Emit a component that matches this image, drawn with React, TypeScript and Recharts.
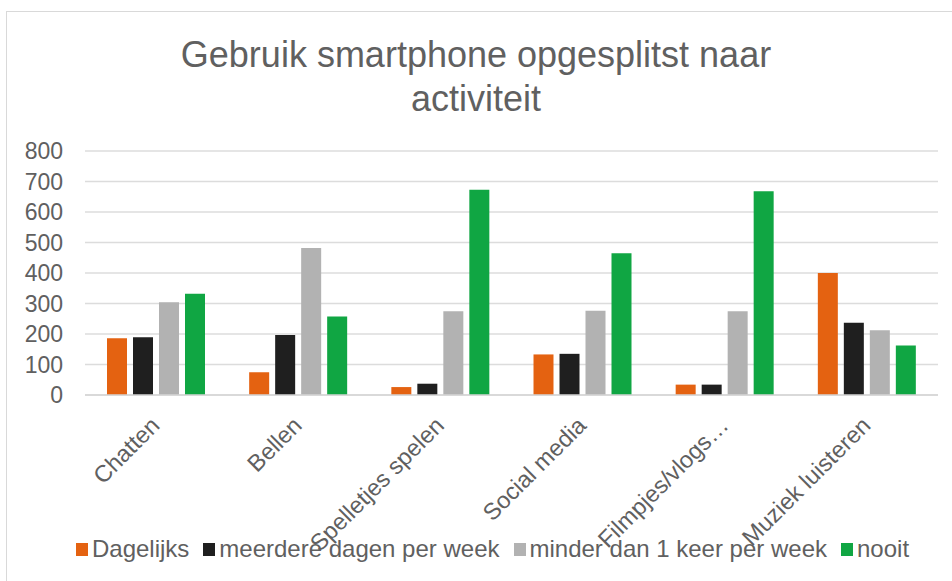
import React from "react";
import { BarChart, Bar, XAxis, YAxis, CartesianGrid } from "recharts";

const categories = [
  "Chatten",
  "Bellen",
  "Spelletjes spelen",
  "Social media",
  "Filmpjes/vlogs…",
  "Muziek luisteren",
];

const dagelijks = [186, 75, 26, 133, 34, 400];
const meerdereDagen = [189, 197, 37, 135, 34, 237];
const minderDan1 = [304, 482, 275, 276, 275, 212];
const nooit = [332, 257, 673, 465, 668, 162];

const yTicks = [0, 100, 200, 300, 400, 500, 600, 700, 800];

const series = [
  { key: "dagelijks", name: "Dagelijks", color: "#E46211", values: dagelijks },
  { key: "meerdere", name: "meerdere dagen per week", color: "#1F1F1F", values: meerdereDagen },
  { key: "minder", name: "minder dan 1 keer per week", color: "#B2B2B2", values: minderDan1 },
  { key: "nooit", name: "nooit", color: "#10A643", values: nooit },
];

const data = categories.map((name, i) => {
  const row: Record<string, string | number> = { name };
  series.forEach((s) => (row[s.key] = s.values[i]));
  return row;
});

const FONT = "'Liberation Sans', Arial, sans-serif";
const TEXT = "#606060";

// rotated category labels, end of text sits just right of the tick
function CategoryTick(props: any) {
  const { x, y, payload } = props;
  const px = x + 5;
  const py = y + 32;
  return (
    <text
      x={px}
      y={py}
      transform={`rotate(-45 ${px} ${py})`}
      textAnchor="end"
      fontSize={23.5}
      fontFamily={FONT}
      fill={TEXT}
    >
      {payload.value}
    </text>
  );
}

export default function App() {
  return (
    <div
      style={{
        position: "absolute",
        left: 0,
        top: 0,
        width: 952,
        height: 581,
        overflow: "hidden",
        background: "#fff",
        fontFamily: FONT,
      }}
    >
      {/* chart frame, cut off on the right and bottom */}
      <div
        style={{
          position: "absolute",
          left: 6,
          top: 11,
          width: 1000,
          height: 700,
          border: "1.5px solid #d9d9d9",
        }}
      />

      <div
        style={{
          position: "absolute",
          left: 0,
          top: 33,
          width: 952,
          textAlign: "center",
          fontSize: 36,
          lineHeight: "44px",
          color: TEXT,
        }}
      >
        Gebruik smartphone opgesplitst naar
        <br />
        activiteit
      </div>

      <div style={{ position: "absolute", left: 0, top: 0 }}>
        <BarChart
          width={952}
          height={581}
          data={data}
          margin={{ top: 151, right: 14, left: 0, bottom: 86 }}
          barSize={20}
          barGap={6}
        >
          <CartesianGrid vertical={false} stroke="#dcdcdc" strokeWidth={1.5} />
          <XAxis
            dataKey="name"
            height={100}
            interval={0}
            axisLine={{ stroke: "#d4d4d4", strokeWidth: 1.5 }}
            tickLine={false}
            tickSize={0}
            tickMargin={0}
            tick={<CategoryTick />}
          />
          <YAxis
            width={85}
            domain={[0, 800]}
            ticks={yTicks}
            interval={0}
            axisLine={false}
            tickLine={false}
            tickMargin={16}
            tick={{ fontSize: 23, fill: TEXT, fontFamily: FONT }}
          />
          {series.map((s) => (
            <Bar
              key={s.key}
              dataKey={s.key}
              name={s.name}
              fill={s.color}
              isAnimationActive={false}
            />
          ))}
        </BarChart>
      </div>

      {/* legend */}
      <div
        style={{
          position: "absolute",
          left: 0,
          top: 534,
          width: 985,
          display: "flex",
          justifyContent: "center",
          alignItems: "center",
          gap: 14,
          fontSize: 24,
          color: TEXT,
          lineHeight: "30px",
        }}
      >
        {series.map((s) => (
          <div key={s.key} style={{ display: "flex", alignItems: "center" }}>
            <span
              style={{
                display: "inline-block",
                width: 12,
                height: 13,
                background: s.color,
                marginRight: 4,
              }}
            />
            <span>{s.name}</span>
          </div>
        ))}
      </div>
    </div>
  );
}
